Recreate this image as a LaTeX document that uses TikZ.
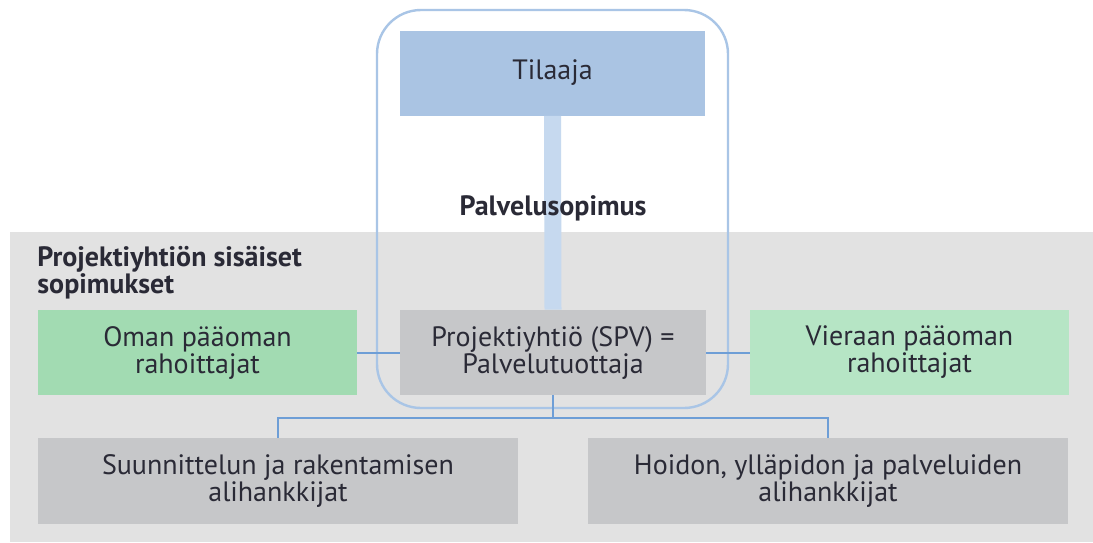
\documentclass[tikz,border=0pt]{standalone}
\usepackage{fontspec}
\setmainfont{PT Sans}
\definecolor{panel}{HTML}{E2E2E2}
\definecolor{tilaajafill}{HTML}{AAC4E3}
\definecolor{barblue}{HTML}{C6D9EF}
\definecolor{outline}{HTML}{A9C5E6}
\definecolor{linkblue}{HTML}{6E9ED6}
\definecolor{greenA}{HTML}{A2DBB2}
\definecolor{greenB}{HTML}{B6E5C5}
\definecolor{boxgray}{HTML}{C6C7C9}
\definecolor{txt}{HTML}{2A2A36}
\begin{document}
\begin{tikzpicture}[x=0.5pt,y=-0.5pt,
  box/.style={draw=none, inner sep=0pt, align=center, text=txt,
    font=\fontsize{14}{13.5}\selectfont},
  link/.style={draw=linkblue, line width=1pt},
  bold/.style={text=txt, inner sep=0pt, font=\fontsize{14}{13.5}\selectfont\bfseries}]
\useasboundingbox (0,0) rectangle (1093,542);
\fill[white] (0,0) rectangle (1093,542);
\fill[panel] (10,232) rectangle (1093,542);
% group outline
\draw[outline, line width=1.2pt, rounded corners=22pt] (377,10) rectangle (728,408);
% nodes
\node[box, fill=tilaajafill, minimum width=152.5pt, minimum height=42.5pt] (tilaaja) at (552.5,73) {Tilaaja};
\path (552.5,114) coordinate (tb);
\node[box, fill=boxgray, minimum width=153pt, minimum height=42.5pt] (spv) at (553,352.5) {Projektiyhtiö (SPV) =\\Palvelutuottaja};
\node[box, fill=greenA, minimum width=159.5pt, minimum height=42.5pt] (oman) at (197.5,352.5) {Oman pääoman\\rahoittajat};
\node[box, fill=greenB, minimum width=159.5pt, minimum height=42.5pt] (vieraan) at (909.5,352.5) {Vieraan pääoman\\rahoittajat};
\node[box, fill=boxgray, minimum width=240pt, minimum height=43pt] (suun) at (278,481) {Suunnittelun ja rakentamisen\\alihankkijat};
\node[box, fill=boxgray, minimum width=240pt, minimum height=43pt] (hoidon) at (828,481) {Hoidon, ylläpidon ja palveluiden\\alihankkijat};
% service contract bar
\draw[barblue, line width=8.5pt] (tilaaja.south) -- (spv.north);
\node[bold] (palv) at (553,208) {Palvelusopimus};
\node[bold, anchor=north west, align=left] (title) at (37,246) {Projektiyhtiön sisäiset\\sopimukset};
% links
\draw[link] (oman.east) -- (spv.west);
\draw[link] (spv.east) -- (vieraan.east -| vieraan.west);
\coordinate (hub) at (553,418);
\draw[link] (spv.south) -- (hub);
\draw[link] (suun.north) |- (hub) -| (hoidon.north);
\end{tikzpicture}
\end{document}
